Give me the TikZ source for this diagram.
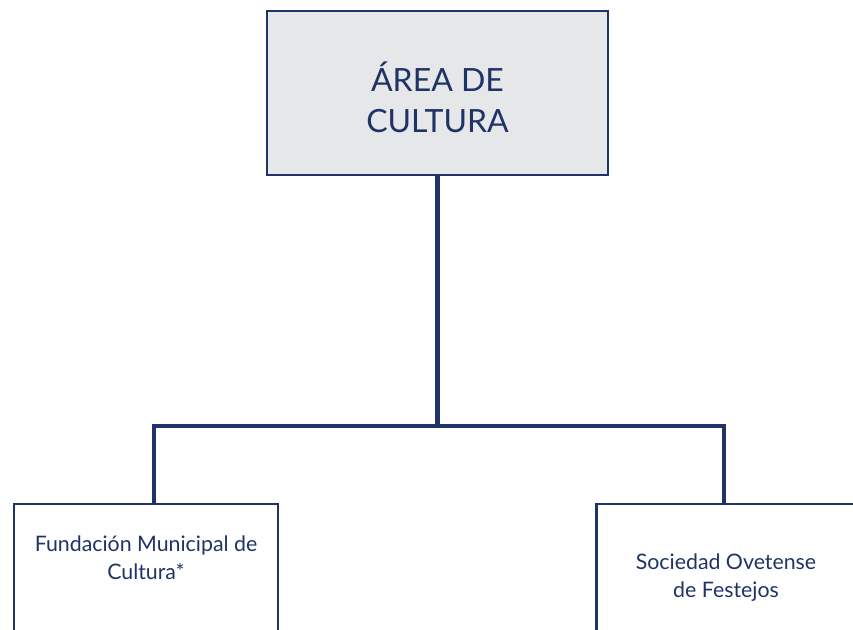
\documentclass[tikz,border=0pt]{standalone}
\usepackage{fontspec}
\setmainfont{Lato}
\definecolor{navy}{HTML}{1F3366}
\definecolor{boxgray}{HTML}{E6E7E9}
\begin{document}
\begin{tikzpicture}[x=0.75pt,y=-0.75pt,
  unit/.style={draw=navy,line width=1.9pt,minimum width=#1,inner sep=0pt},
  label/.style={text=navy,align=center,inner sep=0pt},
  conn/.style={draw=navy,line width=3.4pt}]
\useasboundingbox (0,0) rectangle (853,630);
\clip (0,0) rectangle (853,630);
\node[unit=341*0.75pt,minimum height=164*0.75pt,fill=boxgray] (top) at (437.5,93) {};
\node[unit=264*0.75pt,minimum height=192*0.75pt] (left) at (146,600) {};
\node[unit=261*0.75pt,minimum height=192*0.75pt] (right) at (727,600) {};
\node[label,font=\fontsize{24}{30.5}\selectfont] (toptxt) at (437.5,97) {ÁREA DE\\CULTURA};
\node[label,font=\fontsize{16}{21}\selectfont] (lefttxt) at (146,558) {Fundación Municipal de\\Cultura*};
\node[label,font=\fontsize{16}{21}\selectfont] (righttxt) at (726,578) {Sociedad Ovetense\\de Festejos};
\coordinate (j) at (437.5,426);
\coordinate (lj) at (154,426);
\coordinate (rj) at (724,426);
\draw[conn] (top.south) -- (j);
\draw[conn,line join=miter] (left.north -| lj) -- (lj) -- (rj) -- (right.north -| rj);
\end{tikzpicture}
\end{document}
